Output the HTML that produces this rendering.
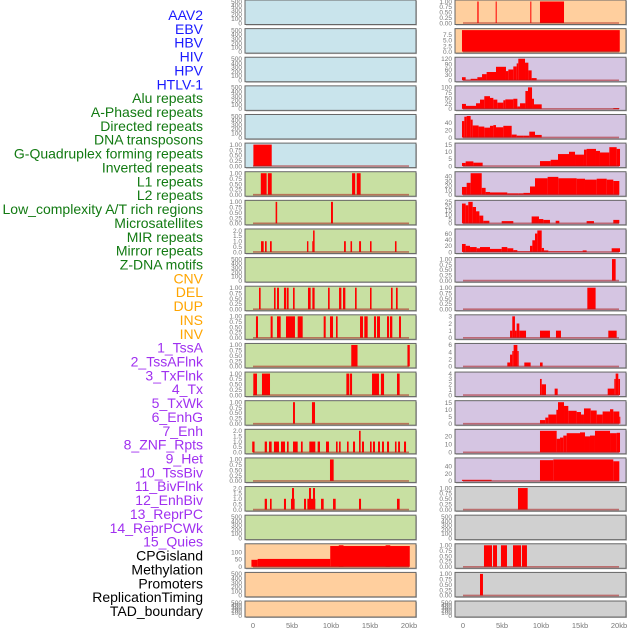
<!DOCTYPE html>
<html><head><meta charset="utf-8">
<style>
html,body{margin:0;padding:0;background:#fff;}
svg{display:block;font-family:"Liberation Sans",sans-serif;}
</style></head>
<body>
<svg id="chart" width="630" height="630" viewBox="0 0 630 630" xmlns="http://www.w3.org/2000/svg"></svg>
<script>
const labels = ["AAV2","EBV","HBV","HIV","HPV","HTLV-1","Alu repeats","A-Phased repeats","Directed repeats","DNA transposons","G-Quadruplex forming repeats","Inverted repeats","L1 repeats","L2 repeats","Low_complexity A/T rich regions","Microsatellites","MIR repeats","Mirror repeats","Z-DNA motifs","CNV","DEL","DUP","INS","INV","1_TssA","2_TssAFlnk","3_TxFlnk","4_Tx","5_TxWk","6_EnhG","7_Enh","8_ZNF_Rpts","9_Het","10_TssBiv","11_BivFlnk","12_EnhBiv","13_ReprPC","14_ReprPCWk","15_Quies","CPGisland","Methylation","Promoters","ReplicationTiming","TAD_boundary"];
const labelGroups = ["virus","virus","virus","virus","virus","virus","rep","rep","rep","rep","rep","rep","rep","rep","rep","rep","rep","rep","rep","sv","sv","sv","sv","sv","chrom","chrom","chrom","chrom","chrom","chrom","chrom","chrom","chrom","chrom","chrom","chrom","chrom","chrom","chrom","other","other","other","other","other"];
const xTicks = [0,5,10,15,20];
const xTickLabels = ["0","5kb","10kb","15kb","20kb"];

// segments: [startKb, endKb, value]
const htlv1 = [[0.05,2.4,1]];
const alu = [[1.0,1.75,1],[1.9,2.4,1],[12.7,13.1,1],[13.3,13.8,1]];
const aPhased = [[2.9,3.1,1],[10.0,10.25,1]];
const directed = [[1.03,1.37,1],[1.54,1.75,1],[2.18,2.4,1],[6.92,7.1,1],[7.6,7.7,1],[7.7,7.9,2],[11.67,11.9,1],[12.5,12.7,1],[13.6,13.85,1],[15.0,15.2,1],[18.2,18.4,1]];
const gquad = [[0.77,0.98,1],[2.69,2.9,1],[3.08,3.33,1],[3.97,4.23,1],[4.32,4.57,1],[5.13,5.34,1],[7.05,7.39,1],[7.61,7.9,1],[9.62,9.83,1],[11.03,11.33,1],[11.54,11.84,1],[13.08,13.29,1],[15.0,15.2,1],[17.69,17.9,1],[18.33,18.55,1]];
const inverted = [[0.38,0.64,1],[2.26,2.52,1],[3.08,3.55,1],[4.23,5.38,1],[5.73,6.37,1],[9.06,9.32,1],[9.87,10.26,1],[10.64,10.85,1],[13.72,14.1,1],[14.27,14.7,1],[15.51,15.77,1],[15.9,16.28,1],[17.18,17.44,1],[17.56,17.86,1],[18.72,18.97,1]];
const l1 = [[12.6,13.4,1],[19.8,20.1,1]];
const l2 = [[0.04,0.51,1],[1.15,2.18,1],[11.97,12.35,1],[12.44,12.7,1],[15.26,16.15,1],[16.4,16.8,1],[18.46,18.8,1]];
const lowComplex = [[5.13,5.38,1],[7.56,7.95,1]];
const microsat = [[-0.1,0.2,1],[1.5,1.79,1],[2.05,2.39,1],[2.69,3.33,1],[3.59,4.1,1],[4.36,4.57,1],[5.13,5.73,1],[6.15,6.37,1],[7.22,7.99,1],[8.29,8.59,1],[9.36,9.74,1],[10.64,10.85,1],[11.03,11.24,1],[12.05,12.26,1],[12.82,13.08,1],[13.59,13.8,2],[13.97,14.23,1],[15.0,15.21,1],[15.38,15.64,1],[16.03,16.28,1],[16.54,16.79,1],[17.18,17.44,1],[18.2,18.4,1],[18.6,18.85,1],[19.36,19.62,1]];
const mir = [[9.87,10.34,1]];
const mirror = [[1.5,1.79,1],[2.18,2.39,1],[3.97,4.23,1],[4.87,5.34,1],[5.0,5.26,2],[6.54,6.8,1],[6.97,7.99,1],[7.18,7.44,2],[7.69,7.95,2],[8.72,9.06,1],[10.26,10.6,1],[13.59,13.85,1],[18.46,18.8,1]];
const cnv = [[-0.2,0.6,47],[0.6,9.9,53],[9.9,20.1,140],[11.0,11.6,145],[17.0,17.6,145]];
const ins = [[1.84,2.0,1],[4.19,4.32,1],[8.63,8.76,1],[9.87,12.95,1]];
const inv = [[-0.13,20.1,9.6]];
const tssA = [[-0.13,0.34,17],[0.34,0.98,3],[0.98,1.84,8],[1.84,2.44,17],[2.44,3.03,34],[3.03,4.23,46],[4.23,5.51,75],[5.51,5.81,51],[5.81,6.45,60],[6.45,6.88,77],[6.88,7.09,94],[7.09,7.95,120],[7.95,8.38,98],[8.38,8.8,55],[8.8,9.44,12]];
const tssAFlnk = [[-0.13,0.38,23],[0.38,1.67,14],[1.67,2.18,26],[2.18,2.73,43],[2.73,3.46,59],[3.46,3.89,51],[3.89,4.4,43],[4.4,5.17,29],[5.17,5.43,40],[5.43,6.45,44],[6.45,6.97,47],[6.97,7.31,11],[7.31,8.0,26],[8.0,8.33,83],[8.33,8.85,100],[8.85,9.1,47],[9.1,10.09,21],[19.27,20.04,4]];
const txFlnk = [[-0.13,0.17,45],[0.17,0.47,57],[0.47,0.98,59],[0.98,1.24,49],[1.24,2.0,33],[2.0,2.73,30],[2.73,3.46,27],[3.46,3.89,32],[3.89,4.23,34],[4.23,5.17,28],[5.17,6.24,32],[6.24,6.88,8],[6.88,7.74,5],[7.74,8.5,5],[8.5,9.23,16],[9.23,10.09,7]];
const tx = [[-0.13,0.34,2.2],[0.34,1.33,3.3],[1.33,2.52,2.4],[9.87,11.24,3.5],[11.24,12.18,4.4],[12.18,13.59,8.4],[13.59,14.36,10],[14.36,15.51,8],[15.51,15.85,11.5],[15.85,17.05,12],[17.05,17.56,10.6],[17.56,18.76,9.5],[18.76,19.7,13.2],[19.7,20.13,12]];
const txWk = [[-0.13,0.47,17],[0.47,0.98,26],[0.98,2.4,47],[2.4,2.9,15],[2.9,3.46,6],[3.46,5.68,5],[5.68,7.09,3],[7.09,7.74,3],[7.74,8.59,4],[8.59,9.23,18],[9.23,10.85,36],[10.85,12.22,39],[12.22,14.57,36],[14.57,15.64,35],[15.64,17.14,33],[17.14,18.42,35],[18.42,19.27,33],[19.27,20.04,30]];
const enhG = [[-0.13,0.34,23],[0.34,0.68,21],[0.68,1.24,25],[1.24,1.67,19],[1.67,2.1,14],[2.1,2.6,9],[2.6,3.38,3],[4.96,6.45,2.6],[8.8,9.74,8],[9.74,10.3,5],[10.3,11.15,4],[11.88,12.35,3],[15.85,16.79,2.6],[19.27,20.04,4]];
const enh = [[-0.13,0.34,26],[0.34,0.9,20],[0.9,1.75,16],[1.75,2.18,12],[2.18,3.46,16],[3.46,4.96,10],[4.96,5.68,16],[5.68,6.45,12],[6.45,6.97,6],[6.97,8.59,2],[8.59,8.89,20],[8.89,9.23,38],[9.23,9.53,60],[9.53,10.09,70],[10.09,10.38,13],[10.38,10.94,5],[10.94,15.34,2],[15.34,15.85,5],[19.06,20.13,12]];
const znf = [[19.1,19.57,1]];
const het = [[15.94,17.0,1]];
const tssBiv = [[6.03,6.32,1],[6.32,6.66,3],[6.66,6.88,1],[6.88,7.22,2],[7.22,8.08,1],[9.87,11.15,1],[11.92,12.56,1],[18.63,19.7,1]];
const bivFlnk = [[5.68,6.03,1.1],[6.03,6.32,3.3],[6.32,6.49,4.3],[6.49,6.97,6],[6.97,7.14,4.3],[7.86,8.67,1.1],[9.87,10.21,1.1]];
const enhBiv = [[9.87,10.09,3],[10.09,10.64,2],[11.75,12.14,1.2],[18.55,19.4,1.2],[19.4,19.57,3],[19.57,19.91,4],[19.91,20.13,3]];
const reprPC = [[9.87,10.55,2.6],[10.55,10.94,4.4],[10.94,11.97,6.6],[11.97,12.18,10],[12.18,12.95,15.5],[12.95,13.5,12.8],[13.5,14.57,9.3],[14.57,15.13,8.4],[15.13,15.51,6.6],[15.51,16.37,11],[16.37,17.14,9.5],[17.14,17.9,6.6],[17.9,18.85,8.8],[18.85,19.27,10.4],[19.27,20.04,8.8],[20.04,20.13,5]];
const reprPCWk = [[9.87,12.01,27],[12.01,12.44,17],[12.44,12.86,18.5],[12.86,13.29,21],[13.29,15.0,24],[15.0,15.64,25],[15.64,16.28,20],[16.28,16.92,21],[16.92,18.85,27],[18.85,19.7,24],[19.7,20.13,24.5]];
const quies = [[-0.13,3.67,3],[9.87,11.58,56],[11.58,19.27,58],[19.27,20.04,53]];
const cpg = [[7.05,8.29,1]];
const promoters = [[2.69,3.72,1],[3.85,4.36,1],[4.87,5.64,1],[6.41,7.44,1],[7.56,8.2,1]];
const repTiming = [[2.18,2.56,1]];
const empty = [];

const t500 = [0,100,200,300,400,500];
const t1 = [0,0.25,0.5,0.75,1];
const t2 = [0,0.5,1,1.5,2];

// left column then right column; each: [name, segments, ymax, ticks, tickDecimals, bg]
const panels = [
 ["aav2",empty,500,t500,0,"#c9e4ec"],["ebv",empty,500,t500,0,"#c9e4ec"],["hbv",empty,500,t500,0,"#c9e4ec"],["hiv",empty,500,t500,0,"#c9e4ec"],["hpv",empty,500,t500,0,"#c9e4ec"],["htlv1",htlv1,1,t1,2,"#c9e4ec"],
 ["alu",alu,1,t1,2,"#c8e0a2"],["a-phased",aPhased,1,t1,2,"#c8e0a2"],["directed",directed,2,t2,1,"#c8e0a2"],["dna-transposons",empty,500,t500,0,"#c8e0a2"],["g-quadruplex",gquad,1,t1,2,"#c8e0a2"],["inverted",inverted,1,t1,2,"#c8e0a2"],["l1",l1,1,t1,2,"#c8e0a2"],["l2",l2,1,t1,2,"#c8e0a2"],["low-complexity",lowComplex,1,t1,2,"#c8e0a2"],["microsatellites",microsat,2,t2,1,"#c8e0a2"],["mir",mir,1,t1,2,"#c8e0a2"],["mirror",mirror,2,t2,1,"#c8e0a2"],["z-dna",empty,500,t500,0,"#c8e0a2"],
 ["cnv",cnv,145,[0,50,100],0,"#ffcf9e"],["del",empty,500,t500,0,"#ffcf9e"],["dup",empty,500,t500,0,"#ffcf9e"],
 ["ins",ins,1,t1,2,"#ffcf9e"],["inv",inv,9.6,[0,2.5,5,7.5],1,"#ffcf9e"],
 ["tssa",tssA,120,[0,30,60,90,120],0,"#d5c5e2"],["tssaflnk",tssAFlnk,100,[0,25,50,75,100],0,"#d5c5e2"],["txflnk",txFlnk,59,[0,20,40],0,"#d5c5e2"],["tx",tx,15,[0,5,10,15],0,"#d5c5e2"],["txwk",txWk,47,[0,10,20,30,40],0,"#d5c5e2"],["enhg",enhG,25,[0,5,10,15,20,25],0,"#d5c5e2"],["enh",enh,70,[0,20,40,60],0,"#d5c5e2"],["znf-rpts",znf,1,t1,2,"#d5c5e2"],["het",het,1,t1,2,"#d5c5e2"],["tssbiv",tssBiv,3,[0,1,2,3],0,"#d5c5e2"],["bivflnk",bivFlnk,6,[0,2,4,6],0,"#d5c5e2"],["enhbiv",enhBiv,4,[0,1,2,3,4],0,"#d5c5e2"],["reprpc",reprPC,15.5,[0,5,10,15],0,"#d5c5e2"],["reprpcwk",reprPCWk,27,[0,10,20],0,"#d5c5e2"],["quies",quies,58,[0,20,40],0,"#d5c5e2"],
 ["cpgisland",cpg,1,t1,2,"#d0d0d0"],["methylation",empty,500,t500,0,"#d0d0d0"],["promoters",promoters,1,t1,2,"#d0d0d0"],["replication-timing",repTiming,1,t1,2,"#d0d0d0"],["tad-boundary",empty,500,t500,0,"#d0d0d0"]
];

const NS = "http://www.w3.org/2000/svg";
const svg = document.getElementById("chart");
function mk(tag, attrs, parent){ const e=document.createElementNS(NS,tag); for(const k in attrs) e.setAttribute(k,attrs[k]); (parent||svg).appendChild(e); return e; }

const groupColors = {virus:"#1a1aff", rep:"#127a12", sv:"#ffa500", chrom:"#a030f0", other:"#000000"};
labels.forEach((t,i)=>{
  const el = mk("text",{x:203,y:15+13.86*i+5,"text-anchor":"end","font-size":"14",fill:groupColors[labelGroups[i]]});
  
  
  el.textContent = t;
});

const colX = [245, 455];
const panelW = 171;
function xScale(col, kb){ return colX[col] + 8 + kb*7.8; }

panels.forEach((p,i)=>{
  const col = i<22 ? 0 : 1;
  const row = i%22;
  const top = row*28.62;
  const h = row===21 ? 16 : 24.5;
  const [name, segs, ymax, ticks, dec, bg] = p;
  const g = mk("g",{});
  
  
  const y0 = top+h-1.5, y1 = top+1.5;
  const yScale = v => y0 - (v/ymax)*(y0-y1);
  mk("rect",{x:colX[col]+1,y:top+1,width:panelW,height:h,fill:"#bbb"},g);
  const bgr = mk("rect",{x:colX[col],y:top,width:panelW,height:h,fill:bg,stroke:"#666","stroke-width":1},g);
  
  
  segs.forEach(s=>{
    const xa = xScale(col,s[0]), xb = xScale(col,s[1]);
    const r = mk("rect",{x:xa,y:yScale(s[2]),width:Math.max(1,xb-xa),height:Math.max(0,y0-yScale(s[2])),fill:"#ff0000"},g);
    
    
  });
  if(segs.length){
    const bl = mk("line",{x1:xScale(col,0),x2:xScale(col,20),y1:y0,y2:y0,stroke:"rgba(170,30,30,0.55)","stroke-width":1.6},g);
    
    
  }
  ticks.forEach(t=>{
    const tl = mk("text",{x:colX[col]-3,y:yScale(t)+2.3,"text-anchor":"end","font-size":"6.5",fill:"#777"},g);
    
    
    tl.textContent = t.toFixed(dec);
  });
});

[0,1].forEach(col=>{
  xTicks.forEach((t,i)=>{
    const el = mk("text",{x:xScale(col,t),y:628,"text-anchor":"middle","font-size":"7.5",fill:"#777"});
    
    
    el.textContent = xTickLabels[i];
  });
});
</script>
</body></html>
